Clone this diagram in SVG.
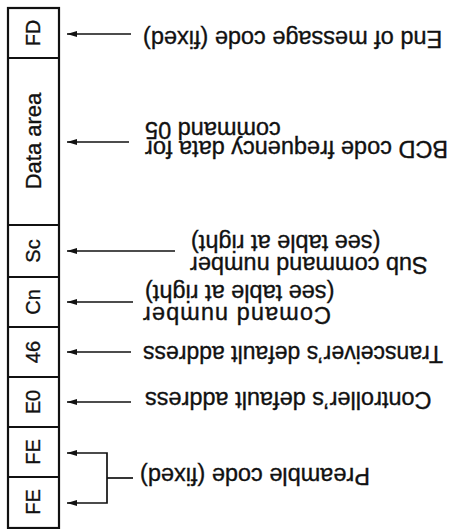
<svg xmlns="http://www.w3.org/2000/svg" width="449" height="529" viewBox="0 0 449 529">
<style>
.box{fill:none;stroke:#111;stroke-width:2.2}
.div{stroke:#111;stroke-width:2}
.cl{font-family:"Liberation Sans",Arial,sans-serif;font-size:20px;fill:#111;stroke:#111;stroke-width:0.35;text-anchor:middle}
.lb{font-family:"Liberation Sans",Arial,sans-serif;font-size:23.5px;fill:#111;stroke:#111;stroke-width:0.35;text-anchor:end}
.con{fill:none;stroke:#111;stroke-width:1.7}
</style>
<defs>
<marker id="ah" viewBox="0 0 10 6" refX="10" refY="3" markerWidth="10" markerHeight="6" markerUnits="userSpaceOnUse" orient="auto">
<path d="M0,0 L10,3 L0,6 z" fill="#111"/>
</marker>
</defs>
<rect width="449" height="529" fill="#fff"/>
<g id="frame">
<rect class="box" x="8" y="8" width="51" height="520"/>
<line class="div" x1="8" y1="58" x2="59" y2="58"/>
<line class="div" x1="8" y1="225" x2="59" y2="225"/>
<line class="div" x1="8" y1="277" x2="59" y2="277"/>
<line class="div" x1="8" y1="327" x2="59" y2="327"/>
<line class="div" x1="8" y1="377" x2="59" y2="377"/>
<line class="div" x1="8" y1="427" x2="59" y2="427"/>
<line class="div" x1="8" y1="477" x2="59" y2="477"/>
</g>
<g id="cell-fd"><text class="cl" x="33" y="33" dy="7" transform="rotate(-90 33 33)">FD</text></g>
<g id="cell-data"><text class="cl" x="33" y="141" dy="7.5" style="font-size:22px" transform="rotate(-90 33 141)">Data area</text></g>
<g id="cell-sc"><text class="cl" x="33" y="251" dy="7" transform="rotate(-90 33 251)">Sc</text></g>
<g id="cell-cn"><text class="cl" x="33" y="302" dy="7" transform="rotate(-90 33 302)">Cn</text></g>
<g id="cell-46"><text class="cl" x="33" y="352" dy="7" transform="rotate(-90 33 352)">46</text></g>
<g id="cell-e0"><text class="cl" x="33" y="402" dy="7" transform="rotate(-90 33 402)">E0</text></g>
<g id="cell-fe1"><text class="cl" x="33" y="452" dy="7" transform="rotate(-90 33 452)">FE</text></g>
<g id="cell-fe2"><text class="cl" x="33" y="502" dy="7" transform="rotate(-90 33 502)">FE</text></g>
<g id="connectors">
<path class="con" d="M131,34 H67" marker-end="url(#ah)"/>
<path class="con" d="M129,142 H67" marker-end="url(#ah)"/>
<path class="con" d="M175,251 H67" marker-end="url(#ah)"/>
<path class="con" d="M133,302 H67" marker-end="url(#ah)"/>
<path class="con" d="M131,352 H67" marker-end="url(#ah)"/>
<path class="con" d="M131,402 H67" marker-end="url(#ah)"/>
<path class="con" d="M107,478 V453 H67" marker-end="url(#ah)"/>
<path class="con" d="M107,478 V503 H67" marker-end="url(#ah)"/>
<path class="con" d="M107,478 H133"/>
</g>
<g id="label-fd"><text class="lb" x="143" y="31" transform="rotate(180 143 31)">End of message code (fixed)</text></g>
<g id="label-data">
<text class="lb" x="145" y="141" transform="rotate(180 145 141)">BCD code frequency data for</text>
<text class="lb" x="145" y="122" transform="rotate(180 145 122)">command 05</text>
</g>
<g id="label-sc">
<text class="lb" x="190" y="257" transform="rotate(180 190 257)">Sub command number</text>
<text class="lb" x="191" y="235" transform="rotate(180 191 235)">(see table at right)</text>
</g>
<g id="label-cn">
<text class="lb" x="143" y="307" textLength="188" lengthAdjust="spacing" transform="rotate(180 143 307)">Comand number</text>
<text class="lb" x="145" y="285" transform="rotate(180 145 285)">(see table at right)</text>
</g>
<g id="label-46"><text class="lb" x="143" y="346" style="font-size:23px" transform="rotate(180 143 346)">Transceiver’s default address</text></g>
<g id="label-e0"><text class="lb" x="145" y="392" transform="rotate(180 145 392)">Controller’s default address</text></g>
<g id="label-fe"><text class="lb" x="140" y="468" transform="rotate(180 140 468)">Preamble code (fixed)</text></g>
</svg>
